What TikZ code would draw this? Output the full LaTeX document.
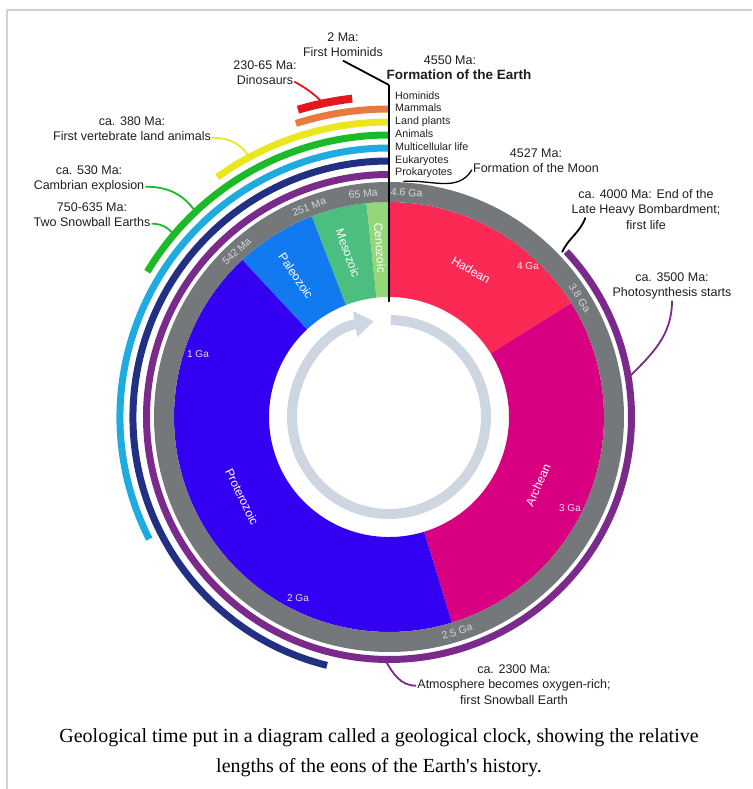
\documentclass[tikz,border=0pt]{standalone}
\usepackage{fontspec}
\setmainfont{Liberation Sans}
\newfontfamily\captionfont{Liberation Serif}
\usetikzlibrary{positioning,arrows.meta}

% eons and eras
\definecolor{hadean}{RGB}{250,42,85}
\definecolor{archean}{RGB}{216,0,128}
\definecolor{protero}{RGB}{52,0,242}
\definecolor{paleo}{RGB}{18,122,240}
\definecolor{meso}{RGB}{76,190,128}
\definecolor{ceno}{RGB}{148,214,120}
\definecolor{ringgray}{RGB}{116,120,122}
\definecolor{arrowgray}{RGB}{206,214,226}
% life arcs
\definecolor{prokaryote}{RGB}{122,42,138}
\definecolor{eukaryote}{RGB}{34,48,132}
\definecolor{multicell}{RGB}{30,172,224}
\definecolor{animal}{RGB}{28,186,40}
\definecolor{landplant}{RGB}{236,230,30}
\definecolor{mammal}{RGB}{232,122,62}
\definecolor{dino}{RGB}{228,22,30}

\tikzset{
  note/.style={font=\fontsize{12.5}{15}\selectfont,text=black!88,inner sep=1pt,text height=9pt,text depth=2.5pt},
  legend/.style={font=\fontsize{10.7}{12}\selectfont,text=black!88,anchor=west,inner sep=0pt,text height=7.8pt,text depth=2.2pt},
  eonlabel/.style={font=\fontsize{12}{14}\selectfont,text=white},
  ticklabel/.style={font=\fontsize{10}{12}\selectfont,text=white,text opacity=0.88},
  ringlabel/.style={font=\fontsize{10.5}{12}\selectfont,text=white,text opacity=0.7},
  lifearc/.style={line width=7pt},
  leader/.style={line width=1.8pt}
}

\begin{document}
\begin{tikzpicture}[x=1pt,y=1pt]
    \useasboundingbox (-389,-372) rectangle (363,417);
    \draw[gray!35,line width=1.2pt] (-382,-372) -- (-382,407) -- (363,407);

    % eons as ring sectors, clockwise from the top
    \foreach \from/\to/\col in {90/32/hadean,32/-73/archean,-73/-227/protero,133/111/paleo,111/96/meso,96/90/ceno}
        \fill[\col] (\from:120) arc[start angle=\from,end angle=\to,radius=120]
            -- (\to:215) arc[start angle=\to,end angle=\from,radius=215] -- cycle;
    \draw[ringgray,line width=20pt] (0,0) circle[radius=225];

    % clock arrow
    \draw[arrowgray,line width=10pt,-{Triangle[length=19pt,width=25pt]}] (89:97) arc[start angle=89,end angle=-261,radius=97];

    % life arcs
    \foreach \r/\from/\to/\col in {242.5/43/-270/prokaryote,256/256/90/eukaryote,269/207/90/multicell,282/149/90/animal,295/125.6/90/landplant,308/107.6/90/mammal}
        \draw[lifearc,\col] (\from:\r) arc[start angle=\from,end angle=\to,radius=\r];
    \draw[lifearc,line width=8pt,dino] (106.5:320.5) arc[start angle=106.5,end angle=96.6,radius=320.5];

    % ring ticks
    \foreach \a/\rot/\txt [count=\i] in {85.5/-4/4.6 Ga,96.6/6.6/65 Ma,110.8/20.8/251 Ma,132.6/42.6/542 Ma,32/-58/3.8 Ga,-72.4/17.6/2.5 Ga}
        \node[ringlabel,rotate=\rot] (tick\i) at (\a:225) {\txt};
    \node[ticklabel] (ga1) at (-191,63) {1 Ga};
    \node[ticklabel] (ga2) at (-91,-181) {2 Ga};
    \node[ticklabel] (ga3) at (181,-91) {3 Ga};
    \node[ticklabel] (ga4) at (139,151) {4 Ga};

    % eon and era names
    \node[eonlabel,rotate=-30] (hadeanlbl) at (82,147) {Hadean};
    \node[eonlabel,rotate=66] (archeanlbl) at (149,-68) {Archean};
    \node[eonlabel,rotate=-64] (proterolbl) at (-147,-80) {Proterozoic};
    \node[eonlabel,rotate=-56] (paleolbl) at (-93,141) {Paleozoic};
    \node[eonlabel,rotate=-70] (mesolbl) at (-41,164) {Mesozoic};
    \node[eonlabel,rotate=-86] (cenolbl) at (-9,169) {Cenozoic};

    % present day line and legend
    \coordinate (top) at (0,332);
    \draw[line width=2.4pt] (top) -- (90:115);
    \foreach \y/\txt [count=\i] in {320/Hominids,308/Mammals,295/Land plants,282/Animals,269/Multicellular life,256/Eukaryotes,244/Prokaryotes}
        \node[legend] (leg\i) at (6,\y) {\txt};

    % annotations
    \node[note] (homdate) at (-46,379) {2 Ma:};
    \node[note,below=1.8pt of homdate] (hom) {First Hominids};
    \node[note] (earthdate) at (61,356) {4550 Ma:};
    \node[note,font=\fontsize{13.5}{16}\selectfont\bfseries] (earth) at (70,341) {Formation of the Earth};
    \node[note] (dinodate) at (-124,351) {230-65 Ma:};
    \node[note,below=1.8pt of dinodate] (dinos) {Dinosaurs};
    \node[note] (landdate) at (-257,295) {ca. 380 Ma:};
    \node[note,below=1.8pt of landdate] (land) {First vertebrate land animals};
    \node[note] (cambdate) at (-300,246) {ca. 530 Ma:};
    \node[note,below=1.8pt of cambdate] (camb) {Cambrian explosion};
    \node[note] (snowdate) at (-297,209) {750-635 Ma:};
    \node[note,below=1.8pt of snowdate] (snow) {Two Snowball Earths};
    \node[note] (moondate) at (147,263) {4527 Ma:};
    \node[note,below=1.8pt of moondate] (moon) {Formation of the Moon};
    \node[note] (lhbdate) at (257,222) {ca. 4000 Ma: End of the};
    \node[note,below=1.8pt of lhbdate] (lhb) {Late Heavy Bombardment;};
    \node[note,below=1.8pt of lhb] (lhbmore) {first life};
    \node[note] (photodate) at (283,139) {ca. 3500 Ma:};
    \node[note,below=1.8pt of photodate] (photo) {Photosynthesis starts};
    \node[note] (oxydate) at (125,-253) {ca. 2300 Ma:};
    \node[note,below=1.8pt of oxydate] (oxy) {Atmosphere becomes oxygen-rich;};
    \node[note,below=1.8pt of oxy] (oxymore) {first Snowball Earth};

    % leaders
    \draw[leader] (hom.south) -- (top);
    \draw[leader,dino] (dinos.east) to[bend left=8] (101.8:320.5);
    \draw[leader,landplant] (land.east) to[out=0,in=120] (118.3:295);
    \draw[leader,animal] (camb.east) to[out=0,in=125] (133.3:282);
    \draw[leader,animal] (snow.east) to[out=0,in=130] (139.7:282);
    \draw[line width=1.3pt] (moon.west) to[out=240,in=5] (86.5:236);
    \draw[leader] ([xshift=15pt]lhb.south west) to[out=-110,in=65] (43.6:239);
    \draw[leader,prokaryote] (photo.south) to[out=-90,in=45] (9.3:242.5);
    \draw[leader,prokaryote] (oxy.west) to[out=180,in=-60] (-91:242.5);

    % caption
    \node[font=\captionfont\fontsize{20}{30}\selectfont,align=center] (caption) at (-10,-336)
        {Geological time put in a diagram called a geological clock, showing the relative\\lengths of the eons of the Earth's history.};
\end{tikzpicture}
\end{document}
